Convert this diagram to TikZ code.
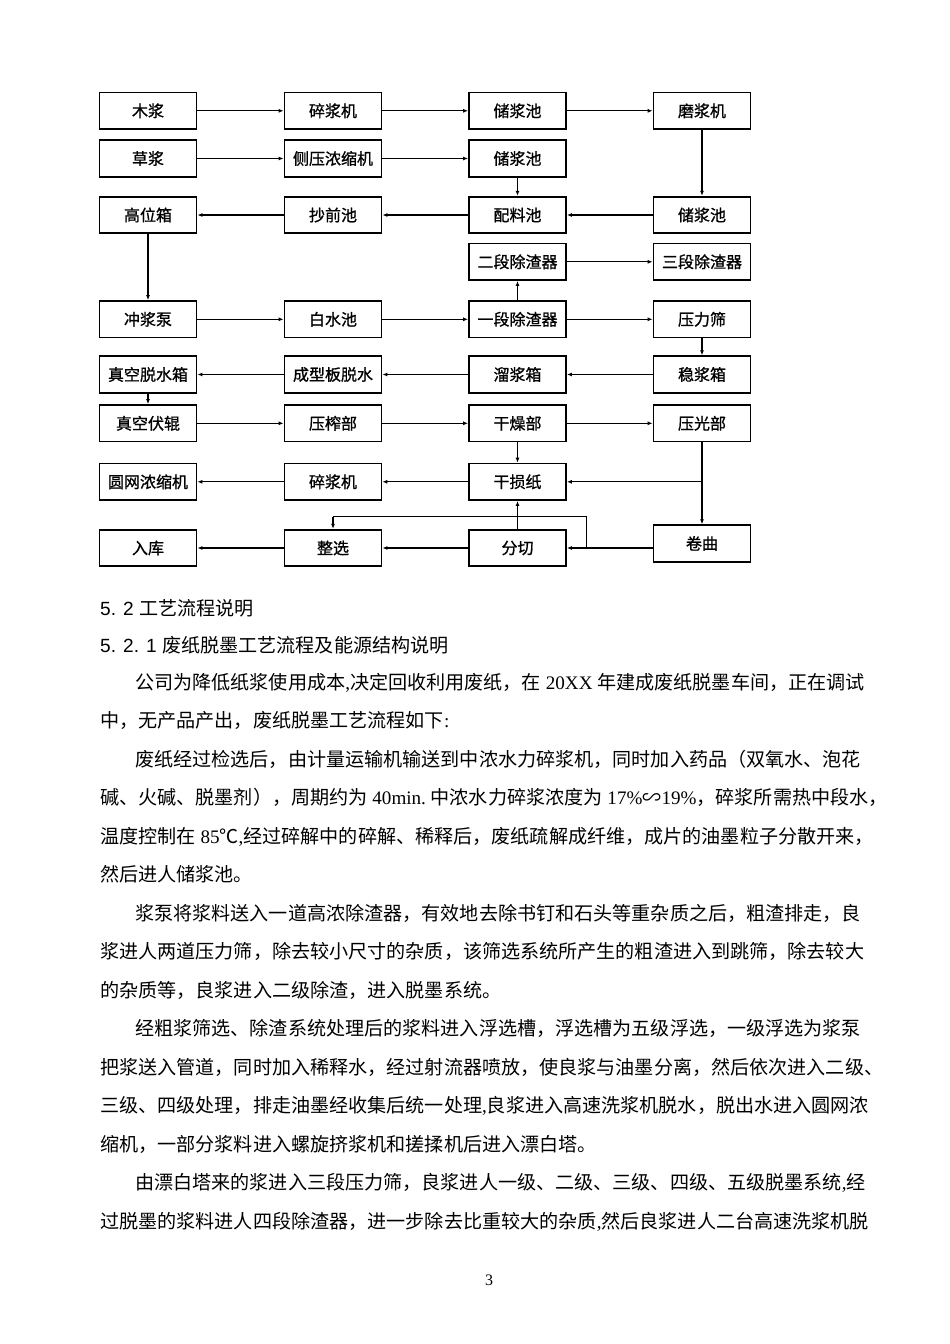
\documentclass[tikz,border=0pt]{standalone}
\usepackage{fontspec}
\setmainfont{Liberation Serif}
\newfontfamily\cjk{Noto Sans CJK SC}
\newfontfamily\cjkbox{Noto Sans CJK SC}[FakeBold=1]
\newfontfamily\hdsans{Liberation Sans}
\usetikzlibrary{arrows.meta,calc}
\XeTeXlinebreaklocale "zh"
\XeTeXlinebreakskip=0pt plus 1pt
\newcommand\latn[1]{{\rmfamily #1}}
\newcommand\fsp{\hspace*{4.8pt}}
\newcommand\jline[2]{\makebox[#1pt][s]{#2}}
\begin{document}
\begin{tikzpicture}[x=1pt,y=-1pt,
  box/.style={draw=black, line width=1.8pt, minimum width=97pt, minimum height=36.5pt,
    inner sep=0pt, font=\fontsize{16}{18}\selectfont\cjkbox},
  conn/.style={line width=1.1pt, -{Latex[length=5pt,width=4pt]}},
  plainline/.style={line width=1.1pt},
  txt/.style={anchor=base west, inner sep=0pt, font=\fontsize{19.1}{23}\selectfont\cjk},
]
\useasboundingbox (0,0) rectangle (950,1344);
\fill[white] (0,0) rectangle (950,1344);

% ---------- boxes ----------
\node[box] (mujiang)   at (148,110.8)   {木浆};
\node[box] (suijianga) at (333,110.8)   {碎浆机};
\node[box] (chua)      at (517.5,110.8) {储浆池};
\node[box] (mojiang)   at (702,110.8)   {磨浆机};

\node[box] (caojiang)  at (148,158.5)   {草浆};
\node[box] (cece)      at (333,158.5)   {侧压浓缩机};
\node[box] (chub)      at (517.5,158.5) {储浆池};

\node[box] (gaowei)    at (148,215)     {高位箱};
\node[box] (chaoqian)  at (333,215)     {抄前池};
\node[box] (peiliao)   at (517.5,215)   {配料池};
\node[box] (chuc)      at (702,215)     {储浆池};

\node[box] (erduan)    at (517.5,261.8) {二段除渣器};
\node[box] (sanduan)   at (702,261.8)   {三段除渣器};

\node[box] (chongjiang) at (148,319.3)  {冲浆泵};
\node[box] (baishui)   at (333,319.3)   {白水池};
\node[box] (yiduan)    at (517.5,319.3) {一段除渣器};
\node[box] (yalishai)  at (702,319.3)   {压力筛};

\node[box] (zhenkong)  at (148,374.5)   {真空脱水箱};
\node[box] (chengxing) at (333,374.5)   {成型板脱水};
\node[box] (liujiang)  at (517.5,374.5) {溜浆箱};
\node[box] (wenjiang)  at (702,374.5)   {稳浆箱};

\node[box] (fugun)     at (148,423.3)   {真空伏辊};
\node[box] (yazha)     at (333,423.3)   {压榨部};
\node[box] (ganzao)    at (517.5,423.3) {干燥部};
\node[box] (yaguang)   at (702,423.3)   {压光部};

\node[box] (yuanwang)  at (148,481.8)   {圆网浓缩机};
\node[box] (suijiangb) at (333,481.8)   {碎浆机};
\node[box] (sunzhi)    at (517.5,481.8) {干损纸};

\node[box] (ruku)      at (148,548)     {入库};
\node[box] (zhengxuan) at (333,548)     {整选};
\node[box] (fenqie)    at (517.5,548)   {分切};
\node[box] (juanqu)    at (702,543.5)   {卷曲};

% ---------- connectors ----------
\draw[conn] (mujiang) -- (suijianga);
\draw[conn] (suijianga) -- (chua);
\draw[conn] (chua) -- (mojiang);
\draw[conn] (mojiang) -- (chuc);
\draw[conn] (caojiang) -- (cece);
\draw[conn] (cece) -- (chub);
\draw[conn] (chub) -- (peiliao);
\draw[conn] (chuc) -- (peiliao);
\draw[conn] (peiliao) -- (chaoqian);
\draw[conn] (chaoqian) -- (gaowei);
\draw[conn] (gaowei) -- (chongjiang);
\draw[conn] (yiduan) -- (erduan);
\draw[conn] (erduan) -- (sanduan);
\draw[conn] (chongjiang) -- (baishui);
\draw[conn] (baishui) -- (yiduan);
\draw[conn] (yiduan) -- (yalishai);
\draw[conn] (yalishai) -- (wenjiang);
\draw[conn] (wenjiang) -- (liujiang);
\draw[conn] (liujiang) -- (chengxing);
\draw[conn] (chengxing) -- (zhenkong);
\draw[conn] (zhenkong) -- (fugun);
\draw[conn] (fugun) -- (yazha);
\draw[conn] (yazha) -- (ganzao);
\draw[conn] (ganzao) -- (yaguang);
\draw[conn] (ganzao) -- (sunzhi);
\coordinate (brk) at (yaguang |- sunzhi);
\draw[plainline] (yaguang) -- (brk);
\draw[conn] (brk) -- (sunzhi);
\draw[conn] (brk) -- (juanqu);
\draw[conn] (sunzhi) -- (suijiangb);
\draw[conn] (suijiangb) -- (yuanwang);
\draw[conn] (fenqie) -- (sunzhi);
\coordinate (jqw) at (juanqu.west |- fenqie);
\draw[conn] (jqw) -- (fenqie);
\draw[conn] (fenqie) -- (zhengxuan);
\draw[conn] (zhengxuan) -- (ruku);
\coordinate (bpa) at (586.7,548);
\coordinate (bpb) at (586.7,516.7);
\coordinate (bpc) at (zhengxuan.north |- bpb);
\draw[plainline] (bpa) -- (bpb) -- (bpc);
\draw[conn] (bpc) -- (zhengxuan);

% ---------- text ----------
\node[txt] (t1) at (100,615) {{\hdsans 5. 2 }工艺流程说明};
\node[txt] (t2) at (100,652) {{\hdsans 5. 2. 1 }废纸脱墨工艺流程及能源结构说明};
\node[txt] (t3) at (135,689) {\jline{737}{公司为降低纸浆使用成本\latn{,}决定回收利用废纸，在\latn{\fsp 20XX\fsp}年建成废纸脱墨车间，正在调试}};
\node[txt] (t4) at (100,727.5) {中，无产品产出，废纸脱墨工艺流程如下\latn{:}};
\node[txt] (t5) at (135,766) {\jline{737}{废纸经过检选后，由计量运输机输送到中浓水力碎浆机，同时加入药品（双氧水、泡花}};
\node[txt] (t6) at (100,804.5) {\jline{772}{碱、火碱、脱墨剂），周期约为\latn{\fsp 40min.\fsp}中浓水力碎浆浓度为\latn{\fsp 17\%}∽\latn{19\%}，碎浆所需热中段水，}};
\node[txt] (t7) at (100,843) {\jline{772}{温度控制在\latn{\fsp 85}℃\latn{,}经过碎解中的碎解、稀释后，废纸疏解成纤维，成片的油墨粒子分散开来，}};
\node[txt] (t8) at (100,881.5) {然后进人储浆池。};
\node[txt] (t9) at (135,920) {\jline{737}{浆泵将浆料送入一道高浓除渣器，有效地去除书钉和石头等重杂质之后，粗渣排走，良}};
\node[txt] (t10) at (100,958.5) {\jline{772}{浆进人两道压力筛，除去较小尺寸的杂质，该筛选系统所产生的粗渣进入到跳筛，除去较大}};
\node[txt] (t11) at (100,997) {的杂质等，良浆进入二级除渣，进入脱墨系统。};
\node[txt] (t12) at (135,1035.5) {\jline{737}{经粗浆筛选、除渣系统处理后的浆料进入浮选槽，浮选槽为五级浮选，一级浮选为浆泵}};
\node[txt] (t13) at (100,1074) {\jline{772}{把浆送入管道，同时加入稀释水，经过射流器喷放，使良浆与油墨分离，然后依次进入二级、}};
\node[txt] (t14) at (100,1112.5) {\jline{772}{三级、四级处理，排走油墨经收集后统一处理\latn{,}良浆进入高速洗浆机脱水，脱出水进入圆网浓}};
\node[txt] (t15) at (100,1151) {缩机，一部分浆料进入螺旋挤浆机和搓揉机后进入漂白塔。};
\node[txt] (t16) at (135,1189.5) {\jline{737}{由漂白塔来的浆进入三段压力筛，良浆进人一级、二级、三级、四级、五级脱墨系统\latn{,}经}};
\node[txt] (t17) at (100,1228) {\jline{772}{过脱墨的浆料进人四段除渣器，进一步除去比重较大的杂质\latn{,}然后良浆进人二台高速洗浆机脱}};
\node[inner sep=0pt, font=\fontsize{16}{18}\selectfont\rmfamily] (pg) at (489,1280) {3};
\end{tikzpicture}
\end{document}
